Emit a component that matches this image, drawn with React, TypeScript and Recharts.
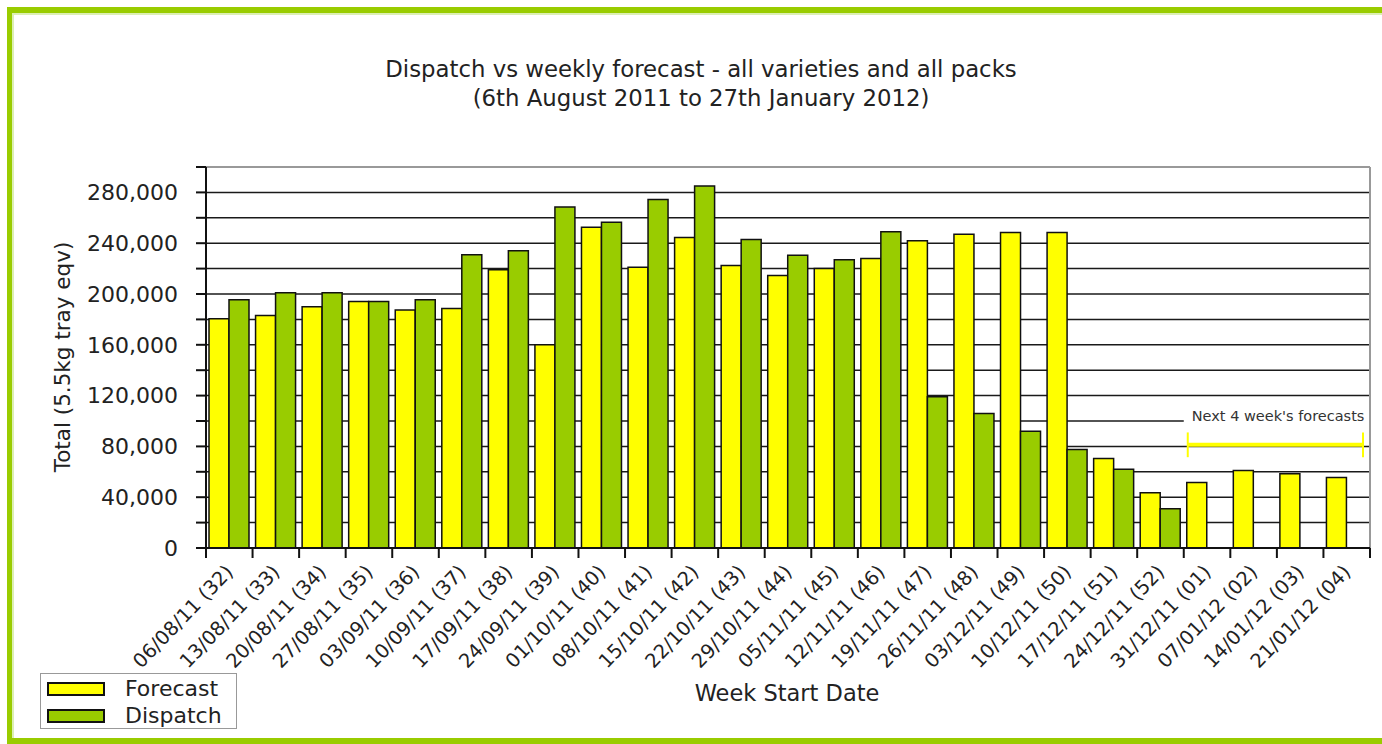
import React from 'react';
import { BarChart, Bar, XAxis, YAxis, CartesianGrid, Legend, ReferenceLine, ReferenceArea } from 'recharts';

const weeks = [
  '06/08/11 (32)', '13/08/11 (33)', '20/08/11 (34)', '27/08/11 (35)', '03/09/11 (36)',
  '10/09/11 (37)', '17/09/11 (38)', '24/09/11 (39)', '01/10/11 (40)', '08/10/11 (41)',
  '15/10/11 (42)', '22/10/11 (43)', '29/10/11 (44)', '05/11/11 (45)', '12/11/11 (46)',
  '19/11/11 (47)', '26/11/11 (48)', '03/12/11 (49)', '10/12/11 (50)', '17/12/11 (51)',
  '24/12/11 (52)', '31/12/11 (01)', '07/01/12 (02)', '14/01/12 (03)', '21/01/12 (04)',
];

const forecast = [
  180500, 183000, 190000, 194000, 187500, 188500, 219000, 160000, 252500, 221000,
  244500, 222500, 214500, 220000, 228000, 242000, 247000, 248500, 248500, 70500,
  43500, 51500, 61000, 58500, 55500,
];

const dispatch = [
  195500, 201000, 201000, 194000, 195500, 231000, 234000, 268500, 256500, 274500,
  285000, 243000, 230500, 227000, 249000, 119000, 106000, 92000, 77500, 62000,
  31000, null, null, null, null,
];

const yTicks = [0, 20000, 40000, 60000, 80000, 100000, 120000, 140000, 160000, 180000,
  200000, 220000, 240000, 260000, 280000, 300000];

const seriesOrder = ['Forecast', 'Dispatch'];

const data = weeks.map((week, i) => ({ week, forecast: forecast[i], dispatch: dispatch[i] }));

const FONT = '"DejaVu Sans", "Liberation Sans", Arial, sans-serif';
const TEXT = '#222';
const YELLOW = '#ffff00';
const GREEN = '#99cc00';

const W = 1382;
const H = 744;
const PLOT_LEFT = 206;
const PLOT_RIGHT = 1370;
const BAND = (PLOT_RIGHT - PLOT_LEFT) / weeks.length;

function WeekTick(props: any) {
  const { x, y, payload, index } = props;
  const half = BAND / 2;
  const tx = x + 5;
  const ty = y + 25;
  return (
    <g>
      <line x1={x - half} x2={x - half} y1={y} y2={y + 10} stroke="#111" strokeWidth={2} />
      {index === weeks.length - 1 && (
        <line x1={x + half} x2={x + half} y1={y} y2={y + 10} stroke="#111" strokeWidth={2} />
      )}
      <text
        x={tx}
        y={ty}
        transform={`rotate(-46 ${tx} ${ty})`}
        textAnchor="end"
        fontSize={19.5}
        fontFamily={FONT}
        fill={TEXT}
      >
        {payload.value}
      </text>
    </g>
  );
}

// yellow bracket marking the forecast-only weeks
function Bracket(props: any) {
  const { x, y, width, height } = props;
  const left = x + 4;
  const right = x + width - 7;
  const mid = y + height / 2;
  return (
    <g>
      <line x1={left} x2={right} y1={mid} y2={mid} stroke={YELLOW} strokeWidth={4} />
      <line x1={left} x2={left} y1={y} y2={y + height} stroke={YELLOW} strokeWidth={2} />
      <line x1={right} x2={right} y1={y} y2={y + height} stroke={YELLOW} strokeWidth={2} />
    </g>
  );
}

function LegendBox(props: any) {
  const items = [...(props.payload || [])].sort(
    (a: any, b: any) => seriesOrder.indexOf(a.value) - seriesOrder.indexOf(b.value),
  );
  return (
    <div
      style={{
        width: 197,
        height: 56,
        boxSizing: 'border-box',
        border: '1px solid #999',
        background: '#fff',
        fontFamily: FONT,
        fontSize: 22,
        color: TEXT,
        position: 'relative',
      }}
    >
      {items.map((item: any, i: number) => (
        <div key={item.value} style={{ position: 'absolute', left: 0, top: 5 + i * 27, height: 20, display: 'flex', alignItems: 'center' }}>
          <span
            style={{
              display: 'inline-block',
              marginLeft: 6,
              width: 58,
              height: 14,
              boxSizing: 'border-box',
              border: '2px solid #111',
              background: item.color,
            }}
          />
          <span style={{ marginLeft: 20, lineHeight: '20px' }}>{item.value}</span>
        </div>
      ))}
    </div>
  );
}

export default function App() {
  return (
    <div style={{ position: 'absolute', left: 0, top: 0, width: W, height: H, background: '#fff', overflow: 'hidden' }}>
      <div
        style={{
          position: 'absolute',
          left: 7,
          top: 7,
          width: W - 7,
          height: H - 7,
          boxSizing: 'border-box',
          borderTop: `6px solid ${GREEN}`,
          borderLeft: `5px solid ${GREEN}`,
          borderBottom: `6px solid ${GREEN}`,
        }}
      >
        <div style={{ position: 'absolute', left: 0, top: 0, right: 0, bottom: 0, borderTop: '2px solid #dcefb4', borderLeft: '2px solid #dcefb4' }} />
      </div>

      <div
        style={{
          position: 'absolute',
          left: 0,
          width: 1402,
          top: 55,
          textAlign: 'center',
          fontFamily: FONT,
          fontSize: 22.8,
          lineHeight: '29px',
          color: TEXT,
        }}
      >
        <div>Dispatch vs weekly forecast - all varieties and all packs</div>
        <div>(6th August 2011 to 27th January 2012)</div>
      </div>

      <div
        style={{
          position: 'absolute',
          left: 62,
          top: 357,
          transform: 'translate(-50%, -50%) rotate(-90deg)',
          whiteSpace: 'nowrap',
          fontFamily: FONT,
          fontSize: 21.5,
          color: TEXT,
        }}
      >
        Total (5.5kg tray eqv)
      </div>

      <div
        style={{
          position: 'absolute',
          left: 787,
          top: 693,
          transform: 'translate(-50%, -50%)',
          whiteSpace: 'nowrap',
          fontFamily: FONT,
          fontSize: 22.5,
          color: TEXT,
        }}
      >
        Week Start Date
      </div>

      <div style={{ position: 'absolute', left: 0, top: 0 }}>
        <BarChart
          width={W}
          height={H}
          data={data}
          margin={{ top: 167, right: W - PLOT_RIGHT, bottom: 0, left: 0 }}
          barCategoryGap={3}
          barGap={0}
        >
          <CartesianGrid vertical={false} stroke="#1a1a1a" strokeWidth={1.5} />
          <XAxis
            dataKey="week"
            height={196}
            interval={0}
            tickSize={0}
            tickMargin={0}
            tickLine={false}
            axisLine={{ stroke: '#111', strokeWidth: 2 }}
            tick={<WeekTick />}
          />
          <YAxis
            width={PLOT_LEFT}
            domain={[0, 300000]}
            ticks={yTicks}
            interval={0}
            tickSize={10}
            tickMargin={18}
            tickLine={{ stroke: '#111', strokeWidth: 2 }}
            axisLine={{ stroke: '#111', strokeWidth: 2 }}
            tick={{ fontSize: 22, fontFamily: FONT, fill: TEXT }}
            tickFormatter={(v: number) => (v % 40000 === 0 && v <= 280000 ? v.toLocaleString('en-US') : '')}
          />
          <ReferenceLine y={300000} stroke="#999" strokeWidth={2} />
          <ReferenceLine x={weeks[weeks.length - 1]} position="end" stroke="#999" strokeWidth={2} />
          <ReferenceArea
            x1={weeks[21]}
            x2={weeks[weeks.length - 1]}
            y1={96000}
            y2={112000}
            fill="#fff"
            fillOpacity={1}
            stroke="none"
            label={{ value: "Next 4 week's forecasts", position: 'insideLeft', offset: 8, fontSize: 14.5, fontFamily: FONT, fill: '#333' }}
          />
          <ReferenceArea
            x1={weeks[21]}
            x2={weeks[weeks.length - 1]}
            y1={71500}
            y2={91000}
            shape={<Bracket />}
          />
          <Legend
            layout="vertical"
            align="center"
            verticalAlign="middle"
            content={<LegendBox />}
            wrapperStyle={{ position: 'absolute', left: 40, top: 673, width: 197, height: 56 }}
          />
          <Bar dataKey="forecast" name="Forecast" fill={YELLOW} stroke="#111" strokeWidth={1.5} isAnimationActive={false} />
          <Bar dataKey="dispatch" name="Dispatch" fill={GREEN} stroke="#111" strokeWidth={1.5} isAnimationActive={false} />
        </BarChart>
      </div>
    </div>
  );
}
